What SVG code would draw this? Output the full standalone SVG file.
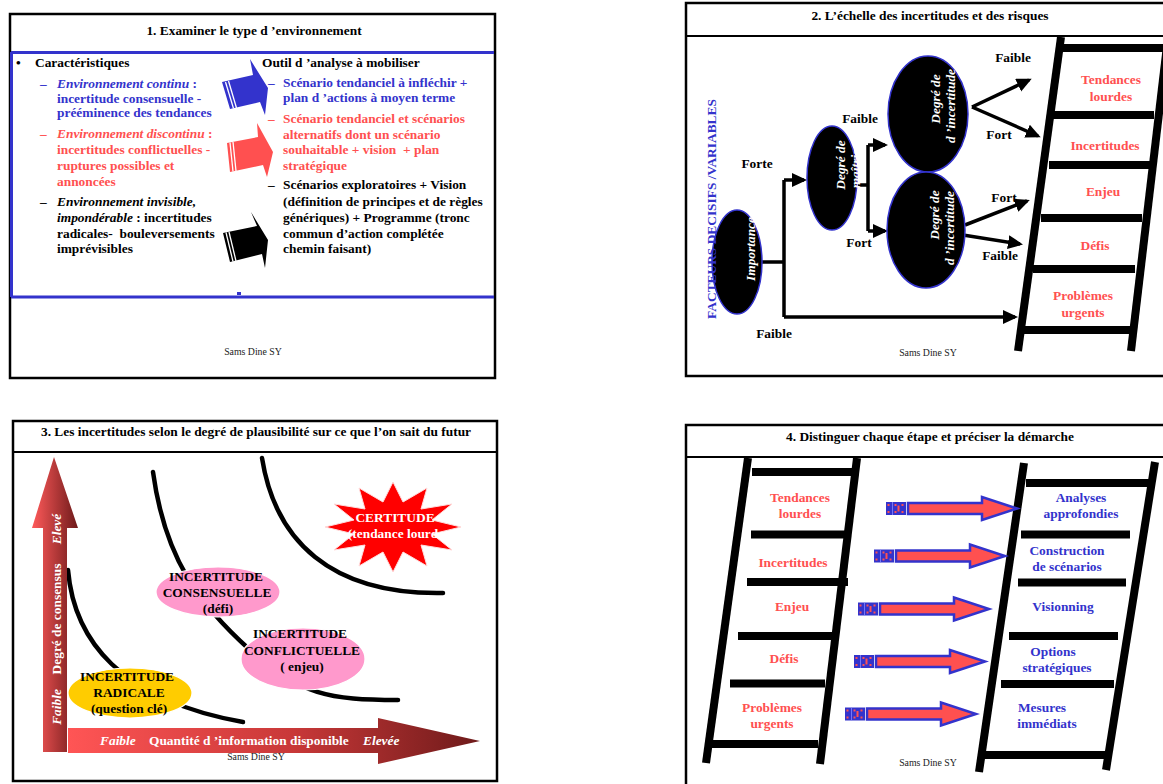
<svg xmlns="http://www.w3.org/2000/svg" width="1163" height="784" viewBox="0 0 1163 784">
<style>
.s{font-family:"Liberation Serif","Times New Roman",serif;font-weight:bold;font-size:13.4px}
.tt{font-size:13.4px;text-anchor:middle;fill:#000}
.c{text-anchor:middle}
.bl{fill:#3333cc}
.rd{fill:#ff5050}
.k{fill:#000}
.w{fill:#fff}
.i{font-style:italic}
.sig{font-family:"Liberation Serif","Times New Roman",serif;font-size:9.8px;text-anchor:middle;fill:#222}
.frame{fill:#fff;stroke:#000;stroke-width:2.5}
.div{stroke:#000;stroke-width:2}
.ell{fill:#000;stroke:#3333cc;stroke-width:1.5}
.conn{stroke:#000;stroke-width:3.5;fill:none}
.rail{stroke:#000;stroke-width:8}
.rung{stroke:#000;stroke-width:8}
.curve{stroke:#000;stroke-width:4.5;fill:none;stroke-linecap:round}
.stripe{stroke:#fff;stroke-width:1.3}
.pe{stroke:#fff;stroke-width:1.2}
</style>
<defs>
<marker id="ah" markerUnits="userSpaceOnUse" markerWidth="15" markerHeight="15" refX="12" refY="7" orient="auto"><path d="M0,0 L15,7 L0,14 z" fill="#000"/></marker>
<linearGradient id="gv" gradientUnits="userSpaceOnUse" x1="32" y1="0" x2="78" y2="0"><stop offset="0" stop-color="#ff5a5a"/><stop offset="1" stop-color="#6e1a1a"/></linearGradient>
<linearGradient id="gh" gradientUnits="userSpaceOnUse" x1="68" y1="0" x2="480" y2="0"><stop offset="0" stop-color="#ff5555"/><stop offset="0.55" stop-color="#c83838"/><stop offset="1" stop-color="#6e1a1a"/></linearGradient>
<g id="arr4">
<rect x="0" y="-6.5" width="20" height="13" fill="#3333cc"/>
<line x1="6.5" y1="-6.5" x2="6.5" y2="6.5" stroke="#8888ff" stroke-width="0.8"/>
<rect x="1.5" y="-4.5" width="2" height="2" fill="#ff5050"/><rect x="1.5" y="2.5" width="2" height="2" fill="#ff5050"/>
<rect x="8.5" y="-4.5" width="2" height="2" fill="#ff5050"/><rect x="8.5" y="2.5" width="2" height="2" fill="#ff5050"/>
<rect x="15.5" y="-4.5" width="2" height="2" fill="#ff5050"/><rect x="15.5" y="2.5" width="2" height="2" fill="#ff5050"/>
<rect x="11.5" y="-3" width="2" height="6" fill="#ff5050"/>
<polygon points="22,-5.5 96,-5.5 96,-11.5 131,0 96,11.5 96,5.5 22,5.5" fill="#ff5050" stroke="#3333cc" stroke-width="2.5"/>
</g>
</defs>

<!-- ================= PANEL 1 ================= -->
<g id="panel1">
<rect class="frame" x="10" y="14" width="485" height="364"/>
<text class="s tt" x="254" y="35">1. Examiner le type d ’environnement</text>
<path d="M11,52.5 H494 M11.5,52 V297 M11,297 H494" stroke="#3333cc" stroke-width="3" fill="none"/>
<rect x="237" y="292" width="4" height="3" fill="#3333cc"/>
<g id="p1-left">
<text class="s k" x="16" y="67" font-weight="normal">•</text>
<text class="s k" x="35" y="67">Caractéristiques</text>
<text class="s bl" x="40" y="88" font-weight="normal">–</text>
<text class="s bl" x="57" y="88"><tspan class="i">Environnement continu</tspan> :</text>
<text class="s bl" x="57" y="102.5">incertitude consensuelle -</text>
<text class="s bl" x="57" y="117">prééminence des tendances</text>
<text class="s rd" x="40" y="138" font-weight="normal">–</text>
<text class="s rd" x="57" y="138"><tspan class="i">Environnement discontinu</tspan> :</text>
<text class="s rd" x="57" y="154">incertitudes conflictuelles -</text>
<text class="s rd" x="57" y="170">ruptures possibles et</text>
<text class="s rd" x="57" y="186">annoncées</text>
<text class="s k" x="40" y="206" font-weight="normal">–</text>
<text class="s k" x="57" y="206"><tspan class="i">Environnement invisible,</tspan></text>
<text class="s k" x="57" y="222"><tspan class="i">impondérable</tspan> : incertitudes</text>
<text class="s k" x="57" y="237.5">radicales-&#160; bouleversements</text>
<text class="s k" x="57" y="253">imprévisibles</text>
</g>
<g id="p1-arrows">
<polygon points="222,82 253,75 250,59 268,88 265,115 260,102 230,109" fill="#3333cc"/>
<line class="stripe" x1="225.5" y1="82" x2="233.5" y2="108.5"/><line class="stripe" x1="228.5" y1="81" x2="236.5" y2="108"/>
<polygon points="227,143 258,137 257,123 273,152 267,177 263,165 230,172" fill="#ff5050"/>
<line class="stripe" x1="230" y1="142.5" x2="233" y2="171.5"/><line class="stripe" x1="233" y1="142" x2="236" y2="171"/>
<polygon points="223,233 257,226 251,212 268,240 265,268 262,254 230,262" fill="#000"/>
<line class="stripe" x1="226" y1="232.5" x2="233" y2="261.5"/><line class="stripe" x1="229" y1="232" x2="236" y2="261"/>
</g>
<g id="p1-right">
<text class="s k" x="262" y="67">Outil d ’analyse à mobiliser</text>
<text class="s bl" x="268" y="87" font-weight="normal">–</text>
<text class="s bl" x="283" y="87">Scénario tendanciel à infléchir +</text>
<text class="s bl" x="283" y="102">plan d ’actions à moyen terme</text>
<text class="s rd" x="268" y="123" font-weight="normal">–</text>
<text class="s rd" x="283" y="123">Scénario tendanciel et scénarios</text>
<text class="s rd" x="283" y="138.5">alternatifs dont un scénario</text>
<text class="s rd" x="283" y="154">souhaitable + vision&#160; + plan</text>
<text class="s rd" x="283" y="170">stratégique</text>
<text class="s k" x="268" y="189" font-weight="normal">–</text>
<text class="s k" x="283" y="189">Scénarios exploratoires + Vision</text>
<text class="s k" x="283" y="206">(définition de principes et de règles</text>
<text class="s k" x="283" y="222">génériques) + Programme (tronc</text>
<text class="s k" x="283" y="237.5">commun d’action complétée</text>
<text class="s k" x="283" y="253">chemin faisant)</text>
</g>
<text class="sig" x="253" y="355">Sams Dine SY</text>
</g>

<!-- ================= PANEL 2 ================= -->
<g id="panel2">
<rect class="frame" x="686" y="3" width="490" height="373"/>
<line class="div" x1="686" y1="36" x2="1163" y2="36"/>
<text class="s tt" x="930" y="20">2. L’échelle des incertitudes et des risques</text>
<g id="ladder2">
<line class="rail" x1="1061" y1="37" x2="1018" y2="351"/>
<line class="rail" x1="1168" y1="37" x2="1131" y2="351"/>
<line class="rung" x1="1062" y1="48" x2="1163" y2="48"/>
<line class="rung" x1="1053" y1="115" x2="1154" y2="115"/>
<line class="rung" x1="1049" y1="165" x2="1150" y2="165"/>
<line class="rung" x1="1041" y1="218" x2="1142" y2="218"/>
<line class="rung" x1="1033" y1="269" x2="1135" y2="269"/>
<line class="rung" x1="1023" y1="330" x2="1130" y2="330"/>
<text class="s rd c" x="1111" y="84">Tendances</text>
<text class="s rd c" x="1111" y="101">lourdes</text>
<text class="s rd c" x="1105" y="150">Incertitudes</text>
<text class="s rd c" x="1103" y="196">Enjeu</text>
<text class="s rd c" x="1095" y="250">Défis</text>
<text class="s rd c" x="1083" y="300">Problèmes</text>
<text class="s rd c" x="1083" y="317">urgents</text>
</g>
<g id="p2-connectors">
<path class="conn" d="M762,262 H784 M784,180 V317 M858,185 H868 M868,145 V231"/>
<path class="conn" d="M784,180 H804" marker-end="url(#ah)"/>
<path class="conn" d="M784,317 H1015" marker-end="url(#ah)"/>
<path class="conn" d="M868,145 H885" marker-end="url(#ah)"/>
<path class="conn" d="M868,231 H885" marker-end="url(#ah)"/>
<path class="conn" d="M972,107 L1029,80" marker-end="url(#ah)"/>
<path class="conn" d="M972,107 L1038,136" marker-end="url(#ah)"/>
<path class="conn" d="M965,225 L1027,201" marker-end="url(#ah)"/>
<path class="conn" d="M963,235 L1020,244" marker-end="url(#ah)"/>
</g>
<g id="n-importance">
<ellipse class="ell" cx="737" cy="262" rx="25" ry="52"/>
<text class="s w i c" transform="translate(755,249) rotate(-90)">Importance</text>
</g>
<g id="n-maitrise">
<ellipse class="ell" cx="832" cy="178" rx="25" ry="52"/>
<text class="s w i c" transform="translate(845,165) rotate(-90)">Degré de</text>
<text class="s w i c" transform="translate(860,166) rotate(-90)">maîtrise</text>
</g>
<g id="n-incert1">
<ellipse class="ell" cx="928" cy="114" rx="40" ry="58"/>
<text class="s w i c" transform="translate(940,99) rotate(-90)">Degré de</text>
<text class="s w i c" transform="translate(955,106) rotate(-90)">d ’incertitude</text>
</g>
<g id="n-incert2">
<ellipse class="ell" cx="926" cy="230" rx="39" ry="58"/>
<text class="s w i c" transform="translate(939,215) rotate(-90)">Degré de</text>
<text class="s w i c" transform="translate(954,228) rotate(-90)">d ’incertitude</text>
</g>
<text class="s bl c" transform="translate(716,209) rotate(-90)" font-size="14.6">FACTEURS DECISIFS /VARIABLES</text>
<g id="p2-labels">
<text class="s k c" x="757" y="168">Forte</text>
<text class="s k c" x="860" y="123">Faible</text>
<text class="s k c" x="859" y="247">Fort</text>
<text class="s k c" x="774" y="338">Faible</text>
<text class="s k c" x="1013" y="62">Faible</text>
<text class="s k c" x="999" y="139">Fort</text>
<text class="s k c" x="1004" y="202">Fort</text>
<text class="s k c" x="1000" y="260">Faible</text>
</g>
<text class="sig" x="928" y="356">Sams Dine SY</text>
</g>

<!-- ================= PANEL 3 ================= -->
<g id="panel3">
<rect class="frame" x="13" y="421" width="484" height="360"/>
<line class="div" x1="13" y1="452" x2="497" y2="452"/>
<text class="s tt" x="256" y="436" font-size="12.6">3. Les incertitudes selon le degré de plausibilité sur ce que l’on sait du futur</text>
<g id="p3-curves">
<path class="curve" d="M68,570 C74,640 120,700 243,722"/>
<path class="curve" d="M153,472 C165,560 200,605 250,650 S330,700 398,700"/>
<path class="curve" d="M262,458 C275,540 330,595 443,593"/>
</g>
<g id="axis-v">
<polygon points="43,752 43,528 32,528 54,457 78,528 67,528 67,752" fill="url(#gv)"/>
<text class="s w i c" transform="translate(61,529) rotate(-90)">Elevé</text>
<text class="s w c" transform="translate(61,619) rotate(-90)">Degré de consensus</text>
<text class="s w i c" transform="translate(61,707) rotate(-90)">Faible</text>
</g>
<g id="axis-h">
<polygon points="68,728 378,728 378,718 480,741 378,764 378,753 68,753" fill="url(#gh)"/>
<text class="s w i" x="100" y="745">Faible</text>
<text class="s w" x="149" y="745">Quantité d ’information disponible</text>
<text class="s w i" x="363" y="745">Elevée</text>
</g>
<g id="n-consensuelle">
<ellipse cx="218" cy="592" rx="62" ry="25" fill="#ff99cc" class="pe"/>
<text class="s k c" x="216" y="581">INCERTITUDE</text>
<text class="s k c" x="217" y="597">CONSENSUELLE</text>
<text class="s k c" x="218" y="613">(défi)</text>
</g>
<g id="n-conflictuelle">
<ellipse cx="303" cy="659" rx="62" ry="31" fill="#ff99cc" class="pe"/>
<text class="s k c" x="300" y="638">INCERTITUDE</text>
<text class="s k c" x="302" y="655">CONFLICTUELLE</text>
<text class="s k c" x="302" y="671">( enjeu)</text>
</g>
<g id="n-radicale">
<ellipse cx="130" cy="693" rx="62" ry="25" fill="#ffcc00" class="pe"/>
<text class="s k c" x="127" y="681">INCERTITUDE</text>
<text class="s k c" x="129" y="697">RADICALE</text>
<text class="s k c" x="129" y="713">(question clé)</text>
</g>
<g id="n-certitude">
<polygon points="461,527 432,534 452,550 421,545 427,566 403,552 393,572 383,552 359,566 365,545 334,550 354,534 325,527 354,520 334,504 365,509 359,488 383,502 393,482 403,502 427,488 421,509 452,504 432,520" fill="#ff0000" stroke="#ffdddd" stroke-width="1"/>
<text class="s w c" x="395" y="522">CERTITUDE</text>
<text class="s w c" x="396" y="538">(tendance lourde</text>
</g>
<text class="sig" x="256" y="760">Sams Dine SY</text>
</g>

<!-- ================= PANEL 4 ================= -->
<g id="panel4">
<rect class="frame" x="686" y="425" width="490" height="370"/>
<line class="div" x1="686" y1="457" x2="1163" y2="457"/>
<text class="s tt" x="930" y="441">4. Distinguer chaque étape et préciser la démarche</text>
<g id="ladder-left">
<line class="rail" x1="748" y1="458" x2="706" y2="763"/>
<line class="rail" x1="857" y1="458" x2="820" y2="764"/>
<line class="rung" x1="752" y1="472" x2="855" y2="472"/>
<line class="rung" x1="751" y1="534.5" x2="845" y2="534.5"/>
<line class="rung" x1="747" y1="582" x2="848" y2="582"/>
<line class="rung" x1="738" y1="636" x2="832" y2="636"/>
<line class="rung" x1="730" y1="683.5" x2="825" y2="683.5"/>
<line class="rung" x1="712" y1="744" x2="818" y2="744"/>
<text class="s rd c" x="800" y="502">Tendances</text>
<text class="s rd c" x="800" y="518">lourdes</text>
<text class="s rd c" x="793" y="567">Incertitudes</text>
<text class="s rd c" x="792" y="611">Enjeu</text>
<text class="s rd c" x="784" y="663">Défis</text>
<text class="s rd c" x="772" y="712">Problèmes</text>
<text class="s rd c" x="772" y="728">urgents</text>
</g>
<g id="ladder-right">
<line class="rail" x1="1024" y1="463" x2="979" y2="772"/>
<line class="rail" x1="1155" y1="462" x2="1106" y2="770"/>
<line class="rung" x1="1026" y1="483" x2="1152" y2="483"/>
<line class="rung" x1="1021" y1="534.5" x2="1130" y2="534.5"/>
<line class="rung" x1="1018" y1="582.5" x2="1126" y2="582.5"/>
<line class="rung" x1="1009" y1="636" x2="1118" y2="636"/>
<line class="rung" x1="1001" y1="684" x2="1114" y2="684"/>
<line class="rung" x1="982" y1="755" x2="1105" y2="755"/>
<text class="s bl c" x="1081" y="502">Analyses</text>
<text class="s bl c" x="1081" y="518">approfondies</text>
<text class="s bl c" x="1067" y="555">Construction</text>
<text class="s bl c" x="1067" y="571">de scénarios</text>
<text class="s bl c" x="1063" y="611">Visionning</text>
<text class="s bl c" x="1053" y="656">Options</text>
<text class="s bl c" x="1057" y="672">stratégiques</text>
<text class="s bl c" x="1042" y="712">Mesures</text>
<text class="s bl c" x="1047" y="728">immédiats</text>
</g>
<g id="p4-connectors">
<use href="#arr4" transform="translate(886,508.5)"/>
<use href="#arr4" transform="translate(874,556)"/>
<use href="#arr4" transform="translate(858,609)"/>
<use href="#arr4" transform="translate(854,661.5)"/>
<use href="#arr4" transform="translate(845,714)"/>
</g>
<text class="sig" x="928" y="766">Sams Dine SY</text>
</g>
</svg>
